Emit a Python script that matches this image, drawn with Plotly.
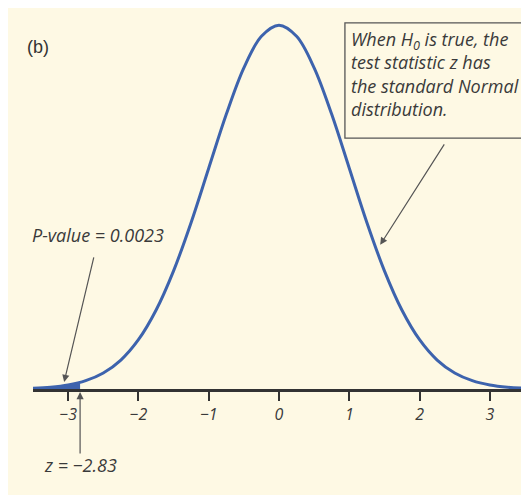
import plotly.graph_objects as go

# standard Normal density at steps of 0.25
z_vals = [-3.5, -3.25, -3.0, -2.75, -2.5, -2.25, -2.0, -1.75, -1.5, -1.25, -1.0,
          -0.75, -0.5, -0.25, 0.0, 0.25, 0.5, 0.75, 1.0, 1.25, 1.5, 1.75, 2.0,
          2.25, 2.5, 2.75, 3.0, 3.25, 3.5]
density = [0.0009, 0.0020, 0.0044, 0.0091, 0.0175, 0.0317, 0.0540, 0.0863, 0.1295,
           0.1826, 0.2420, 0.3011, 0.3521, 0.3867, 0.3989, 0.3867, 0.3521, 0.3011,
           0.2420, 0.1826, 0.1295, 0.0863, 0.0540, 0.0317, 0.0175, 0.0091, 0.0044,
           0.0020, 0.0009]

# shaded tail left of the observed z
tail_z = [-3.5, -3.25, -3.0, -2.83]
tail_density = [0.0009, 0.0020, 0.0044, 0.0073]

z_obs = -2.83
p_value = 0.0023

tick_vals = [-3, -2, -1, 0, 1, 2, 3]
tick_text = ["−3", "−2", "−1", "0", "1", "2", "3"]

BLUE = "#3d63ad"
INK = "#3a3a3a"
CREAM = "#fef9e4"
HAND = "Open Sans"
ARROW = dict(showarrow=True, arrowhead=2, arrowsize=1.2, arrowwidth=1.2,
             arrowcolor="#555555", text="")

fig = go.Figure()
fig.add_trace(go.Scatter(
    x=tail_z, y=tail_density, mode="lines", fill="tozeroy",
    fillcolor=BLUE, line=dict(color=BLUE, width=0), hoverinfo="skip",
))
fig.add_trace(go.Scatter(
    x=z_vals, y=density, mode="lines",
    line=dict(color=BLUE, width=3, shape="spline", smoothing=1.0),
    hoverinfo="skip",
))

fig.add_annotation(
    xref="paper", yref="paper", x=-0.016, y=0.914, xanchor="left", yanchor="middle",
    text="(b)", showarrow=False,
    font=dict(family="Liberation Sans", size=18, color="#333333"),
)

# callout box
fig.add_shape(type="rect", xref="paper", yref="paper",
              x0=0.634, x1=1.004, y0=0.671, y1=0.979,
              line=dict(color="#555555", width=1.3), fillcolor=CREAM)
fig.add_annotation(
    xref="paper", yref="paper", x=0.642, y=0.972, xanchor="left", yanchor="top",
    text="<i>When H<sub>0</sub> is true, the<br>test statistic z has<br>"
         "the standard Normal<br>distribution.</i>",
    align="left", showarrow=False,
    font=dict(family=HAND, size=18, color=INK),
)
fig.add_annotation(x=1.44, y=0.158, ax=65, ay=-102, **ARROW)

fig.add_annotation(
    xref="paper", yref="paper", x=-0.006, y=0.412, xanchor="left", yanchor="middle",
    text=f"<i>P-value = {p_value}</i>", showarrow=False,
    font=dict(family=HAND, size=18, color=INK),
)
fig.add_annotation(x=-3.057, y=0.0077, ax=30, ay=-126, **ARROW)

fig.add_annotation(xref="x", yref="paper", x=z_obs, y=-0.008, ax=0, ay=63, **ARROW)
fig.add_annotation(
    xref="paper", yref="paper", x=0.018, y=-0.203, xanchor="left", yanchor="middle",
    text="<i>z = −2.83</i>", showarrow=False,
    font=dict(family=HAND, size=18, color=INK),
)

fig.update_layout(
    width=521, height=487,
    paper_bgcolor=CREAM, plot_bgcolor=CREAM,
    margin=dict(l=25, r=4, t=7, b=106),
    showlegend=False,
    xaxis=dict(
        range=[-3.5, 3.5], showgrid=False, zeroline=False,
        showline=True, linecolor="#333333", linewidth=2.5,
        ticks="outside", ticklen=9, tickwidth=1.5, tickcolor="#333333",
        tickvals=tick_vals, ticktext=[f"<i>{t}</i>" for t in tick_text],
        tickfont=dict(family=HAND, size=16, color=INK),
    ),
    yaxis=dict(range=[0, 0.41], visible=False),
)

fig.write_html("out.html")
